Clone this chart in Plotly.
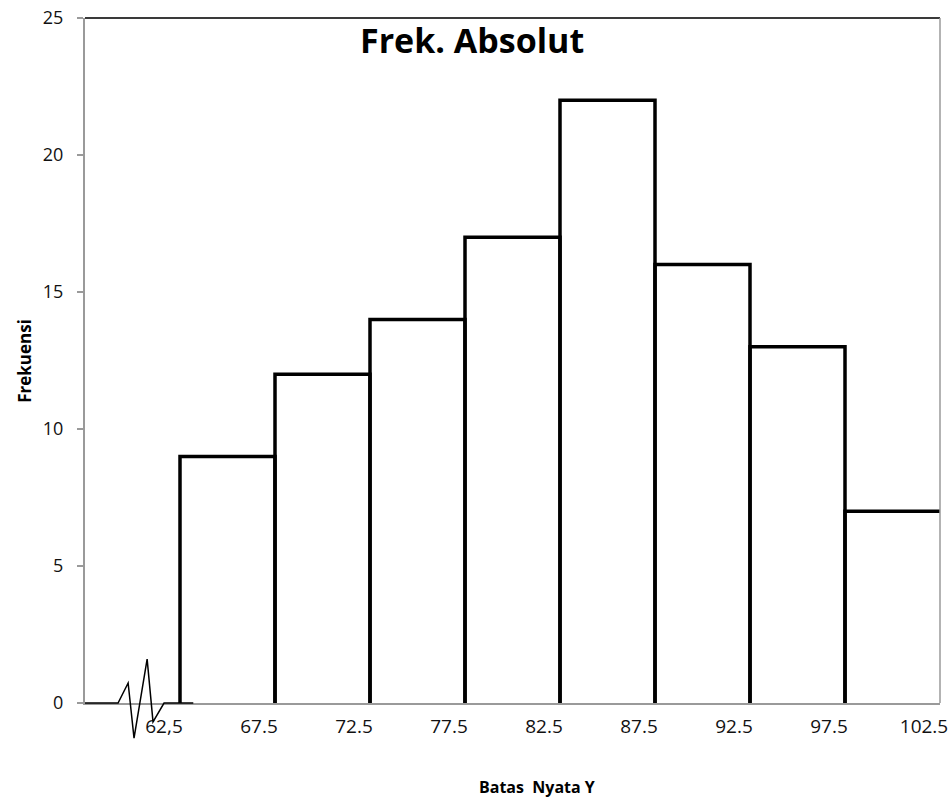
import plotly.graph_objects as go

# ---- data ----
bin_edges = [62.5, 67.5, 72.5, 77.5, 82.5, 87.5, 92.5, 97.5, 102.5]
edge_labels = ["62,5", "67.5", "72.5", "77.5", "82.5", "87.5", "92.5", "97.5", "102.5"]
frekuensi = [9, 12, 14, 17, 22, 16, 13, 7]
y_ticks = [0, 5, 10, 15, 20, 25]

x_range = [57.5, 102.5]
y_range = [0, 25]

# axis-break (zigzag) decoration, in data units
break_x = [57.5, 59.24, 59.77, 60.08, 60.77, 61.08, 61.66, 63.2]
break_y = [0, 0, 0.73, -1.28, 1.6, -0.69, 0, 0]

FONT = "Open Sans"

# open-bottom bar outlines built from the data
xs, ys = [], []
n = len(frekuensi)
for i, h in enumerate(frekuensi):
    L, R = bin_edges[i], bin_edges[i + 1]
    xs += [L, L, R]
    ys += [0, h, h]
    if i < n - 1:
        xs += [R]
        ys += [0]
    xs.append(None)
    ys.append(None)

fig = go.Figure()
fig.add_trace(go.Scatter(
    x=xs, y=ys, mode="lines",
    line=dict(color="#000000", width=3.5),
    connectgaps=False, hoverinfo="skip", showlegend=False,
))

# zigzag break drawn as a shape (y in domain fraction so it isn't clipped vertically)
span = y_range[1] - y_range[0]
path = "M " + " L ".join(
    f"{bx},{(by - y_range[0]) / span}" for bx, by in zip(break_x, break_y)
)
shapes = [
    dict(type="path", xref="x", yref="y domain", path=path,
         line=dict(color="#000000", width=1.5), layer="above"),
    # top border
    dict(type="line", xref="paper", yref="paper", x0=0, x1=1, y0=1, y1=1,
         line=dict(color="#3a3a3a", width=2)),
    # right border
    dict(type="line", xref="paper", yref="paper", x0=1, x1=1, y0=0, y1=1,
         line=dict(color="#9a9a9a", width=1.5)),
]

fig.update_layout(
    width=951, height=803,
    margin=dict(l=85, r=11, t=18, b=100, autoexpand=False),
    paper_bgcolor="white", plot_bgcolor="white",
    font=dict(family=FONT, color="#111111"),
    shapes=shapes,
    showlegend=False,
    annotations=[
        dict(text="<b>Frek. Absolut</b>", xref="paper", yref="paper",
             x=0.4526, y=0.968, xanchor="center", yanchor="middle",
             showarrow=False, font=dict(size=34, family=FONT, color="#000000")),
        dict(text="<b>Frekuensi</b>", xref="paper", yref="paper",
             x=-0.071, y=0.5, xanchor="center", yanchor="middle", textangle=-90,
             showarrow=False, font=dict(size=17, family=FONT, color="#000000")),
        dict(text="<b>Batas  Nyata Y</b>", xref="paper", yref="paper",
             x=0.5287, y=-0.123, xanchor="center", yanchor="middle",
             showarrow=False, font=dict(size=16, family=FONT, color="#000000")),
    ],
)

fig.update_xaxes(
    range=x_range, tickmode="array", tickvals=bin_edges, ticktext=edge_labels,
    showgrid=False, zeroline=False, ticks="", automargin=False,
    showline=True, linecolor="#9a9a9a", linewidth=2, layer="below traces",
    tickfont=dict(size=19, family=FONT, color="#111111"),
    ticklabelshift=-16, ticklabelstandoff=5, ticklabeloverflow="allow",
)
fig.update_yaxes(
    range=y_range, tickmode="array", tickvals=y_ticks, automargin=False,
    showgrid=False, zeroline=False, ticks="outside", ticklen=6,
    tickcolor="#9a9a9a", tickwidth=1.5,
    showline=True, linecolor="#9a9a9a", linewidth=2, layer="below traces",
    tickfont=dict(size=18, family=FONT, color="#111111"),
    ticklabelstandoff=10,
)

fig.write_html("out.html")
